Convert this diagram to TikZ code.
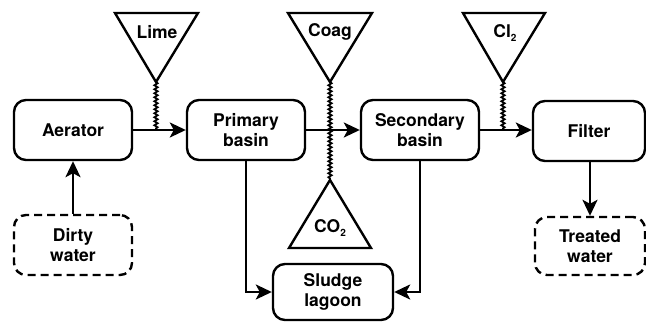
\documentclass[tikz,border=0pt]{standalone}
\usepackage{fontspec}
\setmainfont{TeX Gyre Heros}
\usetikzlibrary{arrows.meta,decorations.pathmorphing}
\newcommand{\subtwo}{\raisebox{-4pt}{\fontsize{10}{10}\selectfont 2}}
\begin{document}
\begin{tikzpicture}[x=1pt,y=-1pt,
  every node/.style={font=\fontsize{17.5}{20.5}\selectfont\bfseries},
  proc/.style={draw,line width=2.4pt,rounded corners=12pt,minimum width=118pt,minimum height=60pt,align=center,inner sep=2pt},
  term/.style={proc,dashed,dash pattern=on 8pt off 5pt},
  flow/.style={line width=2.4pt,-{Stealth[length=16pt,width=15pt,inset=4pt]}},
  funnel/.style={draw,line width=2.4pt,line join=miter},
  coil/.style={line width=1.8pt,decorate,decoration={snake,amplitude=1.6pt,segment length=4pt}},
  lbl/.style={inner sep=0pt}]
\useasboundingbox (0,0) rectangle (646,322);
% process boxes
\node[proc] (aer) at (73,130) {Aerator};
\node[proc] (pri) at (246,130) {Primary\\basin};
\node[proc] (sec) at (420,130) {Secondary\\basin};
\node[proc,minimum width=112pt] (fil) at (589,131) {Filter};
\node[term] (dirty) at (73,245) {Dirty\\water};
\node[term,minimum width=110pt,minimum height=58pt] (treat) at (590,246) {Treated\\water};
\node[proc,minimum width=120pt,minimum height=56pt] (lag) at (333,292) {Sludge\\lagoon};
% funnels
\draw[funnel] (115,13) -- (198,13) -- (156,82) -- cycle;
\coordinate (limeA) at (156,82);
\node[lbl] (lime) at (157,32) {Lime};
\draw[funnel] (288,13) -- (372,13) -- (330,82) -- cycle;
\coordinate (coagA) at (330,82);
\node[lbl] (coag) at (330,32) {Coag};
\draw[funnel] (463,13) -- (545,13) -- (503,82) -- cycle;
\coordinate (clA) at (503,82);
\node[lbl] (cl) at (505,33) {Cl\subtwo};
\draw[funnel] (289,248) -- (371,248) -- (330,180) -- cycle;
\coordinate (co2A) at (330,180);
\node[lbl] (co2) at (330,228) {CO\subtwo};
% main flow
\draw[flow] (dirty.north) -- (aer.south);
\draw[flow] (aer.east) -- (pri.west);
\draw[flow] (pri.east) -- (sec.west);
\draw[flow] (sec.east) -- (fil.west |- sec.east);
\draw[flow] (fil.south -| treat.north) -- (treat.north);
\draw[flow] (pri.south) |- (lag.west);
\draw[flow] (sec.south) |- (lag.east);
% dosing coils
\coordinate (limeB) at (156,130);
\coordinate (clB) at (503,130);
\draw[coil] (limeA) -- (limeB);
\draw[coil] (clA) -- (clB);
\draw[coil] (coagA) -- (co2A);
\end{tikzpicture}
\end{document}
